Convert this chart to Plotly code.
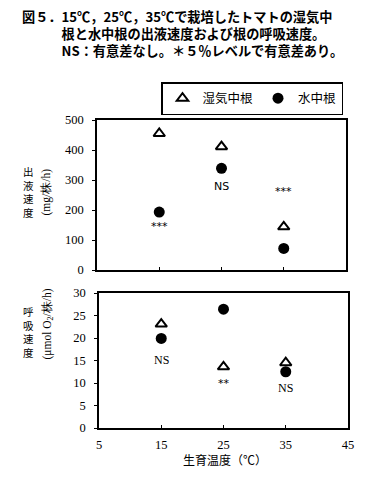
import plotly.graph_objects as go

# ---- data ----
temps = [15, 25, 35]
exud_humid = [455, 411, 144]      # 湿気中根 出液速度
exud_water = [193, 339, 72]       # 水中根 出液速度
resp_humid = [23.1, 13.6, 14.5]   # 湿気中根 呼吸速度
resp_water = [19.9, 26.4, 12.5]   # 水中根 呼吸速度
sig_top = ["***", "NS", "***"]
sig_top_y = [144, 277, 263]
sig_bot = ["NS", "**", "NS"]
sig_bot_y = [15.2, 9.9, 8.8]
x_ticks = [5, 15, 25, 35, 45]

# page has an 8px body margin on every side; size the figure so the page fits the window
OFF = 8
W, H = 365 - 2 * OFF, 481 - 2 * OFF
def px(x): return (x - OFF) / W
def py(y): return 1 - (y - OFF) / H

SERIF = "Liberation Serif, DejaVu Serif, serif"
CJK = "Noto Sans CJK JP"

fig = go.Figure()
tri = dict(symbol="triangle-up-open", size=10, color="black", line=dict(width=2, color="black"))
dot = dict(symbol="circle", size=11, color="black")

fig.add_trace(go.Scatter(x=temps, y=exud_humid, mode="markers", marker=tri, name="湿気中根",
                         xaxis="x", yaxis="y"))
fig.add_trace(go.Scatter(x=temps, y=exud_water, mode="markers", marker=dot, name="水中根",
                         xaxis="x", yaxis="y"))
fig.add_trace(go.Scatter(x=temps, y=resp_humid, mode="markers", marker=tri, showlegend=False,
                         xaxis="x2", yaxis="y2"))
fig.add_trace(go.Scatter(x=temps, y=resp_water, mode="markers", marker=dot, showlegend=False,
                         xaxis="x2", yaxis="y2"))

ann = []
for t, s, yv in zip(temps, sig_top, sig_top_y):
    ann.append(dict(x=t, y=yv, xref="x", yref="y", text=s, showarrow=False,
                    font=dict(family="DejaVu Sans", size=11, color="black")))
for t, s, yv in zip(temps, sig_bot, sig_bot_y):
    ann.append(dict(x=t, y=yv, xref="x2", yref="y2", text=s, showarrow=False,
                    font=dict(family=SERIF if s == "NS" else "DejaVu Sans", size=12 if s == "NS" else 11,
                              color="black")))

# title (one block, indented continuation lines)
title = ("<b>図５．15℃，25℃，35℃で栽培したトマトの湿気中<br>"
         "　　　根と水中根の出液速度および根の呼吸速度。<br>"
         "　　　NS：有意差なし。＊５％レベルで有意差あり。</b>")
ann.append(dict(x=px(20), y=py(34), xref="paper", yref="paper", xanchor="left", yanchor="middle",
                align="left", text=title, showarrow=False,
                font=dict(family=CJK, size=13.2, color="black")))

# y-axis titles: stacked CJK characters (vertical writing) + rotated units
ann.append(dict(x=px(21), y=py(192), xref="paper", yref="paper", text="出<br>液<br>速<br>度",
                showarrow=False, font=dict(family=CJK, size=10.5, color="black")))
ann.append(dict(x=px(37), y=py(192), xref="paper", yref="paper", text="(mg/株/h)", textangle=-90,
                showarrow=False, font=dict(family=SERIF, size=11.5, color="black")))
ann.append(dict(x=px(21), y=py(362), xref="paper", yref="paper", text="呼<br>吸<br>速<br>度",
                showarrow=False, font=dict(family=CJK, size=10.5, color="black")))
ann.append(dict(x=px(38), y=py(362), xref="paper", yref="paper", text="(μmol O<sub>2</sub>/株/h)",
                textangle=-90, showarrow=False, font=dict(family=SERIF, size=11.5, color="black")))
ann.append(dict(x=px(225), y=py(470), xref="paper", yref="paper", text="生育温度（℃）",
                showarrow=False, font=dict(family=CJK, size=12, color="black")))

axis_common = dict(showgrid=False, zeroline=False, showline=True, linecolor="black", linewidth=1.5,
                   mirror=True, tickfont=dict(family=SERIF, size=12.5, color="black"),
                   ticklen=3, tickcolor="black", automargin=False)

fig.update_layout(
    width=W, height=H, margin=dict(l=0, r=0, t=0, b=0, autoexpand=False),
    paper_bgcolor="white", plot_bgcolor="white",
    showlegend=True,
    legend=dict(orientation="h", x=px(161), y=py(82), xanchor="left", yanchor="top",
                bordercolor="black", borderwidth=1.5, font=dict(family=CJK, size=12.5, color="black"),
                itemwidth=30, bgcolor="white"),
    xaxis=dict(domain=[px(97), px(346)], range=[5, 45], tickvals=x_ticks, showticklabels=False,
               ticks="inside", anchor="y", **axis_common),
    yaxis=dict(domain=[py(270), py(120)], range=[0, 500], tickvals=[0, 100, 200, 300, 400, 500],
               ticks="outside", anchor="x", ticklabelstandoff=6, **axis_common),
    xaxis2=dict(domain=[px(99), px(348)], range=[5, 45], tickvals=x_ticks, ticks="inside",
                anchor="y2", ticklabelstandoff=4, **axis_common),
    yaxis2=dict(domain=[py(428), py(293)], range=[0, 30], tickvals=[0, 5, 10, 15, 20, 25, 30],
                ticks="outside", anchor="x2", ticklabelstandoff=6, **axis_common),
    annotations=ann,
)

fig.write_html("out.html")
